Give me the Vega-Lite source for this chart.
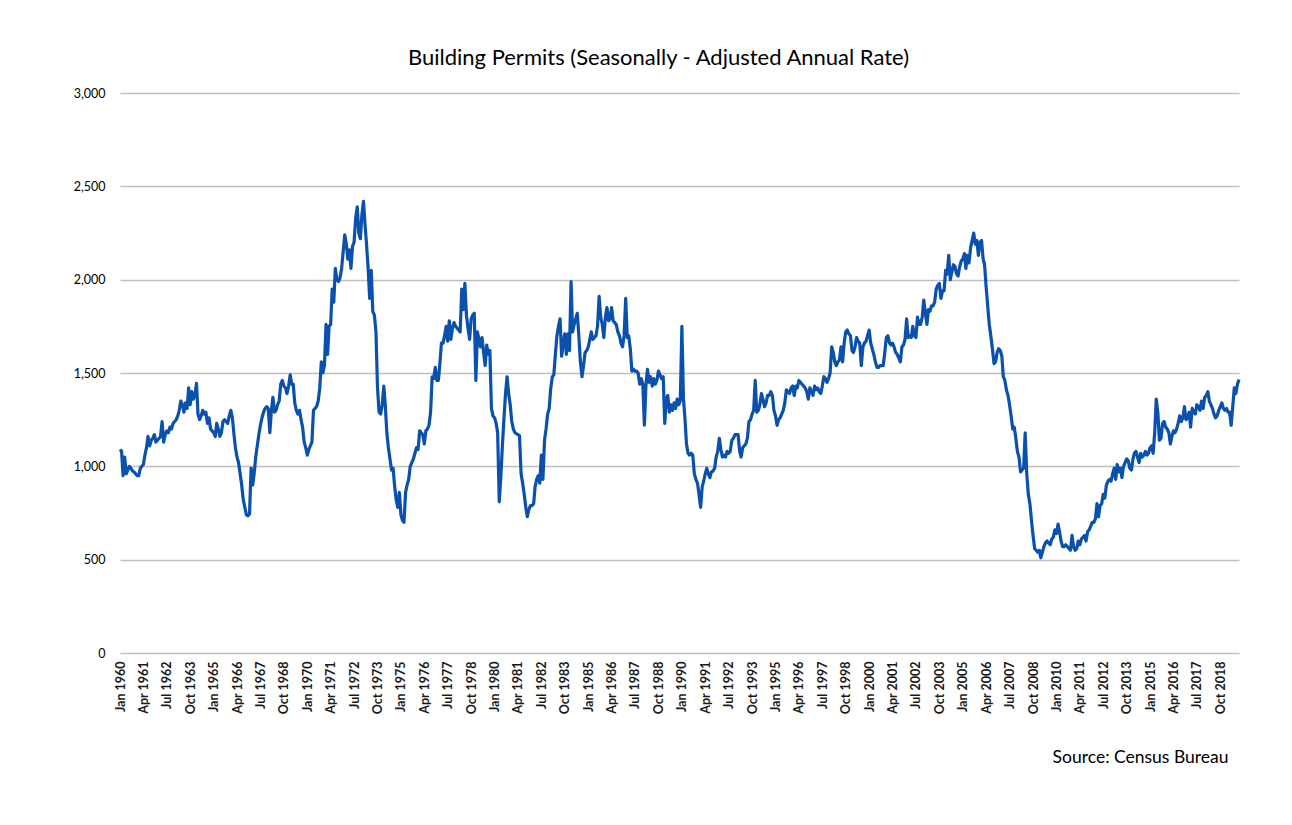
{
"$schema":"https://vega.github.io/schema/vega-lite/v6.json",
"autosize":{"type":"none"},
"width":1119,"height":560,
"padding":{"left":120,"top":93,"right":53,"bottom":172},
"background":"white",
"config":{"view":{"stroke":null},"font":"Lato"},
"title":{"text":"Building Permits (Seasonally - Adjusted Annual Rate)","anchor":"middle","font":"Lato","fontSize":22,"fontWeight":"normal","color":"#000000","offset":17,"dx":-21},
"data":{"values":[
{"d":"1960-01-01","v":1090},{"d":"1960-02-01","v":1080},{"d":"1960-03-01","v":950},{"d":"1960-04-01","v":1050},{"d":"1960-05-01","v":960},{"d":"1960-06-01","v":980},{"d":"1960-07-01","v":1000},{"d":"1960-08-01","v":990},{"d":"1960-09-01","v":975},{"d":"1960-10-01","v":970},{"d":"1960-11-01","v":960},{"d":"1960-12-01","v":950},
{"d":"1961-01-01","v":950},{"d":"1961-02-01","v":990},{"d":"1961-03-01","v":1000},{"d":"1961-04-01","v":1010},{"d":"1961-05-01","v":1060},{"d":"1961-06-01","v":1100},{"d":"1961-07-01","v":1160},{"d":"1961-08-01","v":1110},{"d":"1961-09-01","v":1140},{"d":"1961-10-01","v":1150},{"d":"1961-11-01","v":1170},{"d":"1961-12-01","v":1130},
{"d":"1962-01-01","v":1140},{"d":"1962-02-01","v":1150},{"d":"1962-03-01","v":1160},{"d":"1962-04-01","v":1240},{"d":"1962-05-01","v":1130},{"d":"1962-06-01","v":1170},{"d":"1962-07-01","v":1190},{"d":"1962-08-01","v":1180},{"d":"1962-09-01","v":1210},{"d":"1962-10-01","v":1200},{"d":"1962-11-01","v":1230},{"d":"1962-12-01","v":1240},
{"d":"1963-01-01","v":1250},{"d":"1963-02-01","v":1270},{"d":"1963-03-01","v":1300},{"d":"1963-04-01","v":1350},{"d":"1963-05-01","v":1330},{"d":"1963-06-01","v":1290},{"d":"1963-07-01","v":1340},{"d":"1963-08-01","v":1310},{"d":"1963-09-01","v":1420},{"d":"1963-10-01","v":1330},{"d":"1963-11-01","v":1400},{"d":"1963-12-01","v":1360},
{"d":"1964-01-01","v":1380},{"d":"1964-02-01","v":1445},{"d":"1964-03-01","v":1280},{"d":"1964-04-01","v":1250},{"d":"1964-05-01","v":1270},{"d":"1964-06-01","v":1300},{"d":"1964-07-01","v":1280},{"d":"1964-08-01","v":1290},{"d":"1964-09-01","v":1230},{"d":"1964-10-01","v":1260},{"d":"1964-11-01","v":1200},{"d":"1964-12-01","v":1190},
{"d":"1965-01-01","v":1180},{"d":"1965-02-01","v":1160},{"d":"1965-03-01","v":1230},{"d":"1965-04-01","v":1200},{"d":"1965-05-01","v":1160},{"d":"1965-06-01","v":1180},{"d":"1965-07-01","v":1240},{"d":"1965-08-01","v":1250},{"d":"1965-09-01","v":1240},{"d":"1965-10-01","v":1230},{"d":"1965-11-01","v":1270},{"d":"1965-12-01","v":1300},
{"d":"1966-01-01","v":1260},{"d":"1966-02-01","v":1170},{"d":"1966-03-01","v":1100},{"d":"1966-04-01","v":1050},{"d":"1966-05-01","v":1020},{"d":"1966-06-01","v":960},{"d":"1966-07-01","v":900},{"d":"1966-08-01","v":820},{"d":"1966-09-01","v":780},{"d":"1966-10-01","v":740},{"d":"1966-11-01","v":735},{"d":"1966-12-01","v":745},
{"d":"1967-01-01","v":990},{"d":"1967-02-01","v":900},{"d":"1967-03-01","v":960},{"d":"1967-04-01","v":1050},{"d":"1967-05-01","v":1110},{"d":"1967-06-01","v":1170},{"d":"1967-07-01","v":1220},{"d":"1967-08-01","v":1260},{"d":"1967-09-01","v":1290},{"d":"1967-10-01","v":1310},{"d":"1967-11-01","v":1320},{"d":"1967-12-01","v":1310},
{"d":"1968-01-01","v":1180},{"d":"1968-02-01","v":1300},{"d":"1968-03-01","v":1370},{"d":"1968-04-01","v":1290},{"d":"1968-05-01","v":1300},{"d":"1968-06-01","v":1330},{"d":"1968-07-01","v":1350},{"d":"1968-08-01","v":1440},{"d":"1968-09-01","v":1460},{"d":"1968-10-01","v":1430},{"d":"1968-11-01","v":1420},{"d":"1968-12-01","v":1390},
{"d":"1969-01-01","v":1430},{"d":"1969-02-01","v":1490},{"d":"1969-03-01","v":1440},{"d":"1969-04-01","v":1440},{"d":"1969-05-01","v":1340},{"d":"1969-06-01","v":1300},{"d":"1969-07-01","v":1280},{"d":"1969-08-01","v":1300},{"d":"1969-09-01","v":1250},{"d":"1969-10-01","v":1210},{"d":"1969-11-01","v":1130},{"d":"1969-12-01","v":1100},
{"d":"1970-01-01","v":1060},{"d":"1970-02-01","v":1090},{"d":"1970-03-01","v":1110},{"d":"1970-04-01","v":1130},{"d":"1970-05-01","v":1300},{"d":"1970-06-01","v":1310},{"d":"1970-07-01","v":1320},{"d":"1970-08-01","v":1350},{"d":"1970-09-01","v":1420},{"d":"1970-10-01","v":1560},{"d":"1970-11-01","v":1500},{"d":"1970-12-01","v":1540},
{"d":"1971-01-01","v":1760},{"d":"1971-02-01","v":1600},{"d":"1971-03-01","v":1750},{"d":"1971-04-01","v":1760},{"d":"1971-05-01","v":1950},{"d":"1971-06-01","v":1880},{"d":"1971-07-01","v":2060},{"d":"1971-08-01","v":2000},{"d":"1971-09-01","v":1990},{"d":"1971-10-01","v":2010},{"d":"1971-11-01","v":2060},{"d":"1971-12-01","v":2150},
{"d":"1972-01-01","v":2240},{"d":"1972-02-01","v":2190},{"d":"1972-03-01","v":2110},{"d":"1972-04-01","v":2160},{"d":"1972-05-01","v":2060},{"d":"1972-06-01","v":2180},{"d":"1972-07-01","v":2200},{"d":"1972-08-01","v":2330},{"d":"1972-09-01","v":2390},{"d":"1972-10-01","v":2250},{"d":"1972-11-01","v":2220},{"d":"1972-12-01","v":2350},
{"d":"1973-01-01","v":2420},{"d":"1973-02-01","v":2290},{"d":"1973-03-01","v":2190},{"d":"1973-04-01","v":2060},{"d":"1973-05-01","v":1900},{"d":"1973-06-01","v":2050},{"d":"1973-07-01","v":1830},{"d":"1973-08-01","v":1810},{"d":"1973-09-01","v":1720},{"d":"1973-10-01","v":1420},{"d":"1973-11-01","v":1290},{"d":"1973-12-01","v":1280},
{"d":"1974-01-01","v":1330},{"d":"1974-02-01","v":1430},{"d":"1974-03-01","v":1330},{"d":"1974-04-01","v":1180},{"d":"1974-05-01","v":1100},{"d":"1974-06-01","v":1040},{"d":"1974-07-01","v":980},{"d":"1974-08-01","v":990},{"d":"1974-09-01","v":890},{"d":"1974-10-01","v":820},{"d":"1974-11-01","v":780},{"d":"1974-12-01","v":860},
{"d":"1975-01-01","v":740},{"d":"1975-02-01","v":710},{"d":"1975-03-01","v":700},{"d":"1975-04-01","v":860},{"d":"1975-05-01","v":900},{"d":"1975-06-01","v":930},{"d":"1975-07-01","v":1000},{"d":"1975-08-01","v":1020},{"d":"1975-09-01","v":1040},{"d":"1975-10-01","v":1070},{"d":"1975-11-01","v":1100},{"d":"1975-12-01","v":1090},
{"d":"1976-01-01","v":1190},{"d":"1976-02-01","v":1180},{"d":"1976-03-01","v":1170},{"d":"1976-04-01","v":1120},{"d":"1976-05-01","v":1190},{"d":"1976-06-01","v":1200},{"d":"1976-07-01","v":1220},{"d":"1976-08-01","v":1290},{"d":"1976-09-01","v":1480},{"d":"1976-10-01","v":1470},{"d":"1976-11-01","v":1530},{"d":"1976-12-01","v":1460},
{"d":"1977-01-01","v":1460},{"d":"1977-02-01","v":1560},{"d":"1977-03-01","v":1660},{"d":"1977-04-01","v":1660},{"d":"1977-05-01","v":1700},{"d":"1977-06-01","v":1750},{"d":"1977-07-01","v":1670},{"d":"1977-08-01","v":1780},{"d":"1977-09-01","v":1680},{"d":"1977-10-01","v":1740},{"d":"1977-11-01","v":1770},{"d":"1977-12-01","v":1750},
{"d":"1978-01-01","v":1740},{"d":"1978-02-01","v":1730},{"d":"1978-03-01","v":1720},{"d":"1978-04-01","v":1950},{"d":"1978-05-01","v":1840},{"d":"1978-06-01","v":1980},{"d":"1978-07-01","v":1810},{"d":"1978-08-01","v":1740},{"d":"1978-09-01","v":1680},{"d":"1978-10-01","v":1790},{"d":"1978-11-01","v":1810},{"d":"1978-12-01","v":1820},
{"d":"1979-01-01","v":1460},{"d":"1979-02-01","v":1720},{"d":"1979-03-01","v":1680},{"d":"1979-04-01","v":1640},{"d":"1979-05-01","v":1690},{"d":"1979-06-01","v":1610},{"d":"1979-07-01","v":1540},{"d":"1979-08-01","v":1650},{"d":"1979-09-01","v":1600},{"d":"1979-10-01","v":1620},{"d":"1979-11-01","v":1310},{"d":"1979-12-01","v":1270},
{"d":"1980-01-01","v":1260},{"d":"1980-02-01","v":1230},{"d":"1980-03-01","v":1180},{"d":"1980-04-01","v":810},{"d":"1980-05-01","v":940},{"d":"1980-06-01","v":1110},{"d":"1980-07-01","v":1250},{"d":"1980-08-01","v":1390},{"d":"1980-09-01","v":1480},{"d":"1980-10-01","v":1390},{"d":"1980-11-01","v":1330},{"d":"1980-12-01","v":1240},
{"d":"1981-01-01","v":1200},{"d":"1981-02-01","v":1180},{"d":"1981-03-01","v":1175},{"d":"1981-04-01","v":1170},{"d":"1981-05-01","v":1165},{"d":"1981-06-01","v":960},{"d":"1981-07-01","v":910},{"d":"1981-08-01","v":850},{"d":"1981-09-01","v":780},{"d":"1981-10-01","v":730},{"d":"1981-11-01","v":770},{"d":"1981-12-01","v":790},
{"d":"1982-01-01","v":790},{"d":"1982-02-01","v":800},{"d":"1982-03-01","v":890},{"d":"1982-04-01","v":930},{"d":"1982-05-01","v":950},{"d":"1982-06-01","v":910},{"d":"1982-07-01","v":1060},{"d":"1982-08-01","v":930},{"d":"1982-09-01","v":1140},{"d":"1982-10-01","v":1200},{"d":"1982-11-01","v":1280},{"d":"1982-12-01","v":1310},
{"d":"1983-01-01","v":1420},{"d":"1983-02-01","v":1480},{"d":"1983-03-01","v":1490},{"d":"1983-04-01","v":1600},{"d":"1983-05-01","v":1700},{"d":"1983-06-01","v":1750},{"d":"1983-07-01","v":1790},{"d":"1983-08-01","v":1590},{"d":"1983-09-01","v":1660},{"d":"1983-10-01","v":1710},{"d":"1983-11-01","v":1600},{"d":"1983-12-01","v":1710},
{"d":"1984-01-01","v":1620},{"d":"1984-02-01","v":1990},{"d":"1984-03-01","v":1720},{"d":"1984-04-01","v":1760},{"d":"1984-05-01","v":1790},{"d":"1984-06-01","v":1820},{"d":"1984-07-01","v":1700},{"d":"1984-08-01","v":1560},{"d":"1984-09-01","v":1480},{"d":"1984-10-01","v":1540},{"d":"1984-11-01","v":1610},{"d":"1984-12-01","v":1620},
{"d":"1985-01-01","v":1640},{"d":"1985-02-01","v":1680},{"d":"1985-03-01","v":1720},{"d":"1985-04-01","v":1680},{"d":"1985-05-01","v":1690},{"d":"1985-06-01","v":1700},{"d":"1985-07-01","v":1750},{"d":"1985-08-01","v":1910},{"d":"1985-09-01","v":1800},{"d":"1985-10-01","v":1760},{"d":"1985-11-01","v":1690},{"d":"1985-12-01","v":1800},
{"d":"1986-01-01","v":1850},{"d":"1986-02-01","v":1780},{"d":"1986-03-01","v":1790},{"d":"1986-04-01","v":1850},{"d":"1986-05-01","v":1780},{"d":"1986-06-01","v":1770},{"d":"1986-07-01","v":1760},{"d":"1986-08-01","v":1720},{"d":"1986-09-01","v":1700},{"d":"1986-10-01","v":1660},{"d":"1986-11-01","v":1640},{"d":"1986-12-01","v":1700},
{"d":"1987-01-01","v":1900},{"d":"1987-02-01","v":1690},{"d":"1987-03-01","v":1700},{"d":"1987-04-01","v":1630},{"d":"1987-05-01","v":1510},{"d":"1987-06-01","v":1520},{"d":"1987-07-01","v":1510},{"d":"1987-08-01","v":1510},{"d":"1987-09-01","v":1500},{"d":"1987-10-01","v":1440},{"d":"1987-11-01","v":1470},{"d":"1987-12-01","v":1440},
{"d":"1988-01-01","v":1220},{"d":"1988-02-01","v":1440},{"d":"1988-03-01","v":1520},{"d":"1988-04-01","v":1450},{"d":"1988-05-01","v":1480},{"d":"1988-06-01","v":1430},{"d":"1988-07-01","v":1470},{"d":"1988-08-01","v":1440},{"d":"1988-09-01","v":1460},{"d":"1988-10-01","v":1510},{"d":"1988-11-01","v":1490},{"d":"1988-12-01","v":1470},
{"d":"1989-01-01","v":1480},{"d":"1989-02-01","v":1230},{"d":"1989-03-01","v":1360},{"d":"1989-04-01","v":1380},{"d":"1989-05-01","v":1290},{"d":"1989-06-01","v":1330},{"d":"1989-07-01","v":1300},{"d":"1989-08-01","v":1340},{"d":"1989-09-01","v":1310},{"d":"1989-10-01","v":1360},{"d":"1989-11-01","v":1330},{"d":"1989-12-01","v":1350},
{"d":"1990-01-01","v":1750},{"d":"1990-02-01","v":1360},{"d":"1990-03-01","v":1260},{"d":"1990-04-01","v":1120},{"d":"1990-05-01","v":1070},{"d":"1990-06-01","v":1060},{"d":"1990-07-01","v":1070},{"d":"1990-08-01","v":1060},{"d":"1990-09-01","v":960},{"d":"1990-10-01","v":930},{"d":"1990-11-01","v":910},{"d":"1990-12-01","v":850},
{"d":"1991-01-01","v":780},{"d":"1991-02-01","v":890},{"d":"1991-03-01","v":920},{"d":"1991-04-01","v":960},{"d":"1991-05-01","v":990},{"d":"1991-06-01","v":960},{"d":"1991-07-01","v":940},{"d":"1991-08-01","v":970},{"d":"1991-09-01","v":975},{"d":"1991-10-01","v":990},{"d":"1991-11-01","v":1050},{"d":"1991-12-01","v":1080},
{"d":"1992-01-01","v":1150},{"d":"1992-02-01","v":1090},{"d":"1992-03-01","v":1050},{"d":"1992-04-01","v":1060},{"d":"1992-05-01","v":1050},{"d":"1992-06-01","v":1080},{"d":"1992-07-01","v":1070},{"d":"1992-08-01","v":1080},{"d":"1992-09-01","v":1140},{"d":"1992-10-01","v":1150},{"d":"1992-11-01","v":1170},{"d":"1992-12-01","v":1170},
{"d":"1993-01-01","v":1170},{"d":"1993-02-01","v":1080},{"d":"1993-03-01","v":1050},{"d":"1993-04-01","v":1100},{"d":"1993-05-01","v":1110},{"d":"1993-06-01","v":1120},{"d":"1993-07-01","v":1150},{"d":"1993-08-01","v":1240},{"d":"1993-09-01","v":1250},{"d":"1993-10-01","v":1280},{"d":"1993-11-01","v":1300},{"d":"1993-12-01","v":1460},
{"d":"1994-01-01","v":1290},{"d":"1994-02-01","v":1300},{"d":"1994-03-01","v":1330},{"d":"1994-04-01","v":1390},{"d":"1994-05-01","v":1360},{"d":"1994-06-01","v":1320},{"d":"1994-07-01","v":1340},{"d":"1994-08-01","v":1380},{"d":"1994-09-01","v":1380},{"d":"1994-10-01","v":1400},{"d":"1994-11-01","v":1380},{"d":"1994-12-01","v":1300},
{"d":"1995-01-01","v":1270},{"d":"1995-02-01","v":1220},{"d":"1995-03-01","v":1250},{"d":"1995-04-01","v":1260},{"d":"1995-05-01","v":1280},{"d":"1995-06-01","v":1300},{"d":"1995-07-01","v":1340},{"d":"1995-08-01","v":1410},{"d":"1995-09-01","v":1400},{"d":"1995-10-01","v":1390},{"d":"1995-11-01","v":1420},{"d":"1995-12-01","v":1430},
{"d":"1996-01-01","v":1380},{"d":"1996-02-01","v":1430},{"d":"1996-03-01","v":1420},{"d":"1996-04-01","v":1460},{"d":"1996-05-01","v":1450},{"d":"1996-06-01","v":1440},{"d":"1996-07-01","v":1430},{"d":"1996-08-01","v":1420},{"d":"1996-09-01","v":1400},{"d":"1996-10-01","v":1360},{"d":"1996-11-01","v":1420},{"d":"1996-12-01","v":1400},
{"d":"1997-01-01","v":1380},{"d":"1997-02-01","v":1430},{"d":"1997-03-01","v":1410},{"d":"1997-04-01","v":1420},{"d":"1997-05-01","v":1400},{"d":"1997-06-01","v":1390},{"d":"1997-07-01","v":1430},{"d":"1997-08-01","v":1480},{"d":"1997-09-01","v":1470},{"d":"1997-10-01","v":1450},{"d":"1997-11-01","v":1470},{"d":"1997-12-01","v":1500},
{"d":"1998-01-01","v":1640},{"d":"1998-02-01","v":1610},{"d":"1998-03-01","v":1560},{"d":"1998-04-01","v":1540},{"d":"1998-05-01","v":1560},{"d":"1998-06-01","v":1570},{"d":"1998-07-01","v":1640},{"d":"1998-08-01","v":1560},{"d":"1998-09-01","v":1660},{"d":"1998-10-01","v":1720},{"d":"1998-11-01","v":1730},{"d":"1998-12-01","v":1710},
{"d":"1999-01-01","v":1700},{"d":"1999-02-01","v":1620},{"d":"1999-03-01","v":1610},{"d":"1999-04-01","v":1640},{"d":"1999-05-01","v":1690},{"d":"1999-06-01","v":1670},{"d":"1999-07-01","v":1660},{"d":"1999-08-01","v":1540},{"d":"1999-09-01","v":1640},{"d":"1999-10-01","v":1660},{"d":"1999-11-01","v":1670},{"d":"1999-12-01","v":1700},
{"d":"2000-01-01","v":1730},{"d":"2000-02-01","v":1660},{"d":"2000-03-01","v":1630},{"d":"2000-04-01","v":1600},{"d":"2000-05-01","v":1560},{"d":"2000-06-01","v":1530},{"d":"2000-07-01","v":1530},{"d":"2000-08-01","v":1540},{"d":"2000-09-01","v":1540},{"d":"2000-10-01","v":1540},{"d":"2000-11-01","v":1610},{"d":"2000-12-01","v":1690},
{"d":"2001-01-01","v":1700},{"d":"2001-02-01","v":1660},{"d":"2001-03-01","v":1650},{"d":"2001-04-01","v":1660},{"d":"2001-05-01","v":1640},{"d":"2001-06-01","v":1610},{"d":"2001-07-01","v":1600},{"d":"2001-08-01","v":1580},{"d":"2001-09-01","v":1560},{"d":"2001-10-01","v":1640},{"d":"2001-11-01","v":1650},{"d":"2001-12-01","v":1680},
{"d":"2002-01-01","v":1790},{"d":"2002-02-01","v":1690},{"d":"2002-03-01","v":1700},{"d":"2002-04-01","v":1690},{"d":"2002-05-01","v":1750},{"d":"2002-06-01","v":1700},{"d":"2002-07-01","v":1690},{"d":"2002-08-01","v":1800},{"d":"2002-09-01","v":1760},{"d":"2002-10-01","v":1760},{"d":"2002-11-01","v":1800},{"d":"2002-12-01","v":1890},
{"d":"2003-01-01","v":1820},{"d":"2003-02-01","v":1760},{"d":"2003-03-01","v":1840},{"d":"2003-04-01","v":1830},{"d":"2003-05-01","v":1860},{"d":"2003-06-01","v":1860},{"d":"2003-07-01","v":1880},{"d":"2003-08-01","v":1950},{"d":"2003-09-01","v":1970},{"d":"2003-10-01","v":1980},{"d":"2003-11-01","v":1900},{"d":"2003-12-01","v":1940},
{"d":"2004-01-01","v":1940},{"d":"2004-02-01","v":2050},{"d":"2004-03-01","v":2030},{"d":"2004-04-01","v":2130},{"d":"2004-05-01","v":2000},{"d":"2004-06-01","v":2040},{"d":"2004-07-01","v":2080},{"d":"2004-08-01","v":2070},{"d":"2004-09-01","v":2030},{"d":"2004-10-01","v":2020},{"d":"2004-11-01","v":2070},{"d":"2004-12-01","v":2100},
{"d":"2005-01-01","v":2110},{"d":"2005-02-01","v":2140},{"d":"2005-03-01","v":2060},{"d":"2005-04-01","v":2130},{"d":"2005-05-01","v":2090},{"d":"2005-06-01","v":2170},{"d":"2005-07-01","v":2210},{"d":"2005-08-01","v":2250},{"d":"2005-09-01","v":2190},{"d":"2005-10-01","v":2210},{"d":"2005-11-01","v":2130},{"d":"2005-12-01","v":2200},
{"d":"2006-01-01","v":2210},{"d":"2006-02-01","v":2110},{"d":"2006-03-01","v":2080},{"d":"2006-04-01","v":1960},{"d":"2006-05-01","v":1860},{"d":"2006-06-01","v":1760},{"d":"2006-07-01","v":1700},{"d":"2006-08-01","v":1630},{"d":"2006-09-01","v":1550},{"d":"2006-10-01","v":1560},{"d":"2006-11-01","v":1610},{"d":"2006-12-01","v":1630},
{"d":"2007-01-01","v":1620},{"d":"2007-02-01","v":1590},{"d":"2007-03-01","v":1480},{"d":"2007-04-01","v":1460},{"d":"2007-05-01","v":1410},{"d":"2007-06-01","v":1380},{"d":"2007-07-01","v":1330},{"d":"2007-08-01","v":1270},{"d":"2007-09-01","v":1200},{"d":"2007-10-01","v":1210},{"d":"2007-11-01","v":1150},{"d":"2007-12-01","v":1080},
{"d":"2008-01-01","v":1050},{"d":"2008-02-01","v":970},{"d":"2008-03-01","v":980},{"d":"2008-04-01","v":990},{"d":"2008-05-01","v":1180},{"d":"2008-06-01","v":960},{"d":"2008-07-01","v":850},{"d":"2008-08-01","v":800},{"d":"2008-09-01","v":710},{"d":"2008-10-01","v":630},{"d":"2008-11-01","v":560},{"d":"2008-12-01","v":550},
{"d":"2009-01-01","v":540},{"d":"2009-02-01","v":550},{"d":"2009-03-01","v":510},{"d":"2009-04-01","v":540},{"d":"2009-05-01","v":570},{"d":"2009-06-01","v":590},{"d":"2009-07-01","v":600},{"d":"2009-08-01","v":590},{"d":"2009-09-01","v":580},{"d":"2009-10-01","v":610},{"d":"2009-11-01","v":620},{"d":"2009-12-01","v":660},
{"d":"2010-01-01","v":640},{"d":"2010-02-01","v":690},{"d":"2010-03-01","v":650},{"d":"2010-04-01","v":600},{"d":"2010-05-01","v":570},{"d":"2010-06-01","v":570},{"d":"2010-07-01","v":580},{"d":"2010-08-01","v":570},{"d":"2010-09-01","v":560},{"d":"2010-10-01","v":550},{"d":"2010-11-01","v":630},{"d":"2010-12-01","v":570},
{"d":"2011-01-01","v":550},{"d":"2011-02-01","v":560},{"d":"2011-03-01","v":600},{"d":"2011-04-01","v":580},{"d":"2011-05-01","v":610},{"d":"2011-06-01","v":620},{"d":"2011-07-01","v":630},{"d":"2011-08-01","v":600},{"d":"2011-09-01","v":650},{"d":"2011-10-01","v":660},{"d":"2011-11-01","v":680},{"d":"2011-12-01","v":700},
{"d":"2012-01-01","v":700},{"d":"2012-02-01","v":720},{"d":"2012-03-01","v":800},{"d":"2012-04-01","v":730},{"d":"2012-05-01","v":790},{"d":"2012-06-01","v":800},{"d":"2012-07-01","v":850},{"d":"2012-08-01","v":830},{"d":"2012-09-01","v":900},{"d":"2012-10-01","v":920},{"d":"2012-11-01","v":930},{"d":"2012-12-01","v":920},
{"d":"2013-01-01","v":960},{"d":"2013-02-01","v":990},{"d":"2013-03-01","v":930},{"d":"2013-04-01","v":1010},{"d":"2013-05-01","v":970},{"d":"2013-06-01","v":990},{"d":"2013-07-01","v":940},{"d":"2013-08-01","v":1000},{"d":"2013-09-01","v":1020},{"d":"2013-10-01","v":1040},{"d":"2013-11-01","v":1030},{"d":"2013-12-01","v":990},
{"d":"2014-01-01","v":980},{"d":"2014-02-01","v":1040},{"d":"2014-03-01","v":1070},{"d":"2014-04-01","v":1080},{"d":"2014-05-01","v":1050},{"d":"2014-06-01","v":1020},{"d":"2014-07-01","v":1070},{"d":"2014-08-01","v":1050},{"d":"2014-09-01","v":1060},{"d":"2014-10-01","v":1080},{"d":"2014-11-01","v":1060},{"d":"2014-12-01","v":1070},
{"d":"2015-01-01","v":1100},{"d":"2015-02-01","v":1110},{"d":"2015-03-01","v":1070},{"d":"2015-04-01","v":1180},{"d":"2015-05-01","v":1360},{"d":"2015-06-01","v":1290},{"d":"2015-07-01","v":1140},{"d":"2015-08-01","v":1150},{"d":"2015-09-01","v":1230},{"d":"2015-10-01","v":1240},{"d":"2015-11-01","v":1210},{"d":"2015-12-01","v":1200},
{"d":"2016-01-01","v":1180},{"d":"2016-02-01","v":1120},{"d":"2016-03-01","v":1160},{"d":"2016-04-01","v":1190},{"d":"2016-05-01","v":1180},{"d":"2016-06-01","v":1200},{"d":"2016-07-01","v":1230},{"d":"2016-08-01","v":1270},{"d":"2016-09-01","v":1240},{"d":"2016-10-01","v":1260},{"d":"2016-11-01","v":1320},{"d":"2016-12-01","v":1250},
{"d":"2017-01-01","v":1260},{"d":"2017-02-01","v":1290},{"d":"2017-03-01","v":1210},{"d":"2017-04-01","v":1310},{"d":"2017-05-01","v":1290},{"d":"2017-06-01","v":1280},{"d":"2017-07-01","v":1330},{"d":"2017-08-01","v":1320},{"d":"2017-09-01","v":1300},{"d":"2017-10-01","v":1350},{"d":"2017-11-01","v":1310},{"d":"2017-12-01","v":1370},
{"d":"2018-01-01","v":1380},{"d":"2018-02-01","v":1400},{"d":"2018-03-01","v":1350},{"d":"2018-04-01","v":1330},{"d":"2018-05-01","v":1310},{"d":"2018-06-01","v":1280},{"d":"2018-07-01","v":1260},{"d":"2018-08-01","v":1270},{"d":"2018-09-01","v":1300},{"d":"2018-10-01","v":1320},{"d":"2018-11-01","v":1340},{"d":"2018-12-01","v":1310},
{"d":"2019-01-01","v":1300},{"d":"2019-02-01","v":1310},{"d":"2019-03-01","v":1290},{"d":"2019-04-01","v":1290},{"d":"2019-05-01","v":1220},{"d":"2019-06-01","v":1320},{"d":"2019-07-01","v":1420},{"d":"2019-08-01","v":1390},{"d":"2019-09-01","v":1440},{"d":"2019-10-01","v":1465}
]},
"mark":{"type":"line","color":"#0a50ad","strokeWidth":3.2,"strokeJoin":"round"},
"encoding":{
"x":{"field":"d","type":"temporal","scale":{"type":"utc","domain":[{"year":1960,"month":1,"date":1,"utc":true},{"year":2019,"month":10,"date":1,"utc":true}],"nice":false},
"axis":{"title":"Source: Census Bureau","titleFont":"Lato","titleFontSize":17.5,"titleFontWeight":"normal","titleColor":"#000000","titleAnchor":"end","titleAlign":"right","titleBaseline":"middle","titleX":1108,"titleY":104,
"format":"%b %Y","labelAngle":270,"labelAlign":"right","labelBaseline":"middle","labelPadding":8,"labelFont":"Lato","labelFontSize":12.5,"labelFontWeight":"bold","labelColor":"#1a1a1a","labelOverlap":false,"domain":false,"ticks":false,"grid":false,
"values":[{"year":1960,"month":1,"date":1,"utc":true},{"year":1961,"month":4,"date":1,"utc":true},{"year":1962,"month":7,"date":1,"utc":true},{"year":1963,"month":10,"date":1,"utc":true},{"year":1965,"month":1,"date":1,"utc":true},{"year":1966,"month":4,"date":1,"utc":true},{"year":1967,"month":7,"date":1,"utc":true},{"year":1968,"month":10,"date":1,"utc":true},{"year":1970,"month":1,"date":1,"utc":true},{"year":1971,"month":4,"date":1,"utc":true},{"year":1972,"month":7,"date":1,"utc":true},{"year":1973,"month":10,"date":1,"utc":true},{"year":1975,"month":1,"date":1,"utc":true},{"year":1976,"month":4,"date":1,"utc":true},{"year":1977,"month":7,"date":1,"utc":true},{"year":1978,"month":10,"date":1,"utc":true},{"year":1980,"month":1,"date":1,"utc":true},{"year":1981,"month":4,"date":1,"utc":true},{"year":1982,"month":7,"date":1,"utc":true},{"year":1983,"month":10,"date":1,"utc":true},{"year":1985,"month":1,"date":1,"utc":true},{"year":1986,"month":4,"date":1,"utc":true},{"year":1987,"month":7,"date":1,"utc":true},{"year":1988,"month":10,"date":1,"utc":true},{"year":1990,"month":1,"date":1,"utc":true},{"year":1991,"month":4,"date":1,"utc":true},{"year":1992,"month":7,"date":1,"utc":true},{"year":1993,"month":10,"date":1,"utc":true},{"year":1995,"month":1,"date":1,"utc":true},{"year":1996,"month":4,"date":1,"utc":true},{"year":1997,"month":7,"date":1,"utc":true},{"year":1998,"month":10,"date":1,"utc":true},{"year":2000,"month":1,"date":1,"utc":true},{"year":2001,"month":4,"date":1,"utc":true},{"year":2002,"month":7,"date":1,"utc":true},{"year":2003,"month":10,"date":1,"utc":true},{"year":2005,"month":1,"date":1,"utc":true},{"year":2006,"month":4,"date":1,"utc":true},{"year":2007,"month":7,"date":1,"utc":true},{"year":2008,"month":10,"date":1,"utc":true},{"year":2010,"month":1,"date":1,"utc":true},{"year":2011,"month":4,"date":1,"utc":true},{"year":2012,"month":7,"date":1,"utc":true},{"year":2013,"month":10,"date":1,"utc":true},{"year":2015,"month":1,"date":1,"utc":true},{"year":2016,"month":4,"date":1,"utc":true},{"year":2017,"month":7,"date":1,"utc":true},{"year":2018,"month":10,"date":1,"utc":true}]}},
"y":{"field":"v","type":"quantitative","scale":{"domain":[0,3000],"nice":false,"zero":true},
"axis":{"title":null,"values":[0,500,1000,1500,2000,2500,3000],"format":",d","labelFont":"Lato","labelFontSize":12.5,"labelColor":"#000000","labelPadding":15,"domain":false,"ticks":false,"grid":true,"gridColor":"#bfbfbf","gridWidth":1.5}}
}
}
